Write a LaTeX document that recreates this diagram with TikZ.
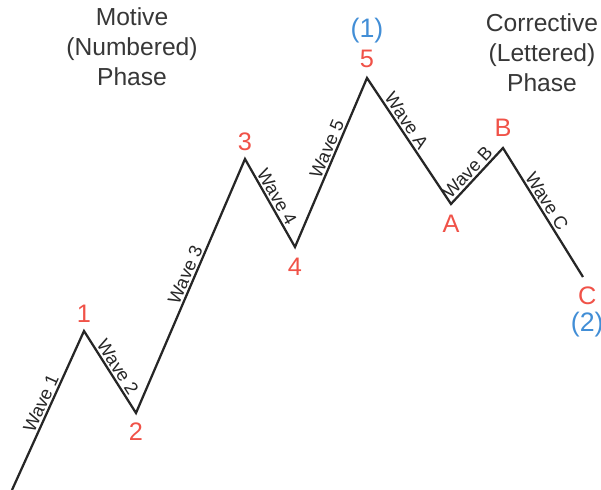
\documentclass[tikz,border=0pt]{standalone}
\usepackage{fontspec}
\setmainfont{Liberation Sans}
\usetikzlibrary{positioning}
\definecolor{ptred}{RGB}{240,82,72}
\definecolor{cycblue}{RGB}{66,142,214}
\definecolor{phasegray}{RGB}{55,55,55}

\begin{document}
\begin{tikzpicture}[x=0.025cm, y=-0.025cm,
    wave/.style={line width=1.6pt, black!85},
    num/.style={text=ptred, font=\fontsize{18}{20}\selectfont, inner sep=0pt},
    deg/.style={text=cycblue, font=\fontsize{19}{21}\selectfont, inner sep=0pt},
    phase/.style={align=center, text=phasegray, font=\fontsize{17.5}{21.3}\selectfont},
    lbl/.style={sloped, above, text=black!85, font=\fontsize{13}{14}\selectfont, inner sep=1.2pt}]
    \useasboundingbox (0,0) rectangle (601,490);

    % turning points
    \coordinate (p0) at (12,490);
    \coordinate (p1) at (84,331);
    \coordinate (p2) at (136,413);
    \coordinate (p3) at (245,159);
    \coordinate (p4) at (295,247);
    \coordinate (p5) at (367,78);
    \coordinate (pA) at (451,204);
    \coordinate (pB) at (503,148);
    \coordinate (pC) at (583,277);

    \draw[wave] (p0) -- node[lbl, pos=0.52] (w1) {Wave 1}
        (p1) -- node[lbl, pos=0.5] (w2) {Wave 2}
        (p2) -- node[lbl, pos=0.53] (w3) {Wave 3}
        (p3) -- node[lbl, pos=0.48] (w4) {Wave 4}
        (p4) -- node[lbl, pos=0.56] (w5) {Wave 5}
        (p5) -- node[lbl, pos=0.38] (wA) {Wave A}
        (pA) -- node[lbl, pos=0.45] (wB) {Wave B}
        (pB) -- node[lbl, pos=0.45] (wC) {Wave C}
        (pC);

    % point labels
    \node[num, above=6pt of p1] (l1) {1};
    \node[num, below=7pt of p2] (l2) {2};
    \node[num, above=5.5pt of p3] (l3) {3};
    \node[num, below=8pt of p4] (l4) {4};
    \node[num, above=7pt of p5] (l5) {5};
    \node[num, below=8pt of pA] (lA) {A};
    \node[num, above=8pt of pB] (lB) {B};
    \node[num, below=7pt of pC, xshift=3pt] (lC) {C};
    \node[deg, above=5pt of l5] (d1) {(1)};
    \node[deg, below=5pt of lC] (d2) {(2)};

    % phase captions
    \node[phase] (motive) at (132,47) {Motive\\(Numbered)\\Phase};
    \node[phase] (correct) at (542,53) {Corrective\\(Lettered)\\Phase};
\end{tikzpicture}
\end{document}
